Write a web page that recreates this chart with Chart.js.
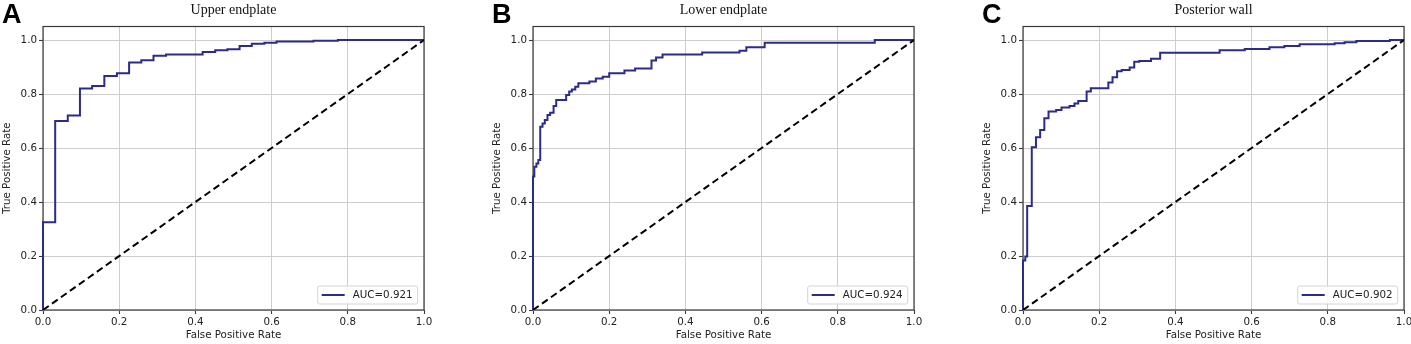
<!DOCTYPE html>
<html>
<head>
<meta charset="utf-8">
<script src="https://cdn.jsdelivr.net/npm/chart.js@4.4.1/dist/chart.umd.min.js"></script>
<style>
  html, body { margin:0; padding:0; background:#fff; }
  body { width:1411px; height:344px; position:relative; overflow:hidden; }
  .panel { position:absolute; top:0; width:435px; height:344px; }
  .panel canvas { display:block; }
  .letter { position:absolute; top:1px; font-family:"Liberation Sans", Arial, sans-serif; font-weight:bold; font-size:27px; line-height:27px; color:#000; }
  .title { position:absolute; top:2.6px; width:381px; text-align:center; font-family:"Liberation Serif", "Times New Roman", serif; font-size:14px; line-height:14px; color:#111; }
</style>
</head>
<body>
<script>
// ---------------- data ----------------
const panelLetters = ['A', 'B', 'C'];
const panelTitles = ['Upper endplate', 'Lower endplate', 'Posterior wall'];
const aucLabels = ['AUC=0.921', 'AUC=0.924', 'AUC=0.902'];
const tickValues = [0, 0.2, 0.4, 0.6, 0.8, 1.0];
const chanceX = [0, 1];
const chanceY = [0, 1];

// step corners (fpr, tpr) of each ROC curve
const fprA = [0, 0, 0.032, 0.065, 0.097, 0.129, 0.161, 0.194, 0.226, 0.258, 0.290, 0.323, 0.419, 0.452, 0.484, 0.516, 0.548, 0.581, 0.613, 0.710, 0.774, 1.0];
const tprA = [0, 0.325, 0.700, 0.720, 0.820, 0.830, 0.867, 0.877, 0.917, 0.925, 0.942, 0.946, 0.956, 0.962, 0.966, 0.978, 0.986, 0.990, 0.994, 0.997, 1.0, 1.0];

const fprB = [0, 0, 0.0035, 0.009, 0.014, 0.019, 0.025, 0.031, 0.038, 0.045, 0.054, 0.061, 0.087, 0.095, 0.102, 0.111, 0.119, 0.148, 0.165, 0.183, 0.200, 0.240, 0.268, 0.311, 0.323, 0.340, 0.444, 0.542, 0.560, 0.608, 0.897, 1.0];
const tprB = [0, 0.494, 0.531, 0.543, 0.556, 0.679, 0.691, 0.704, 0.722, 0.731, 0.756, 0.778, 0.796, 0.809, 0.817, 0.827, 0.840, 0.846, 0.857, 0.864, 0.877, 0.887, 0.894, 0.924, 0.935, 0.946, 0.954, 0.960, 0.973, 0.990, 1.0, 1.0];

const fprC = [0, 0, 0.006, 0.011, 0.023, 0.034, 0.045, 0.056, 0.067, 0.087, 0.101, 0.122, 0.135, 0.145, 0.167, 0.178, 0.224, 0.235, 0.247, 0.259, 0.280, 0.292, 0.305, 0.336, 0.360, 0.516, 0.582, 0.647, 0.686, 0.726, 0.818, 0.844, 0.875, 0.963, 1.0];
const tprC = [0, 0.183, 0.198, 0.385, 0.603, 0.640, 0.667, 0.710, 0.735, 0.741, 0.750, 0.756, 0.765, 0.774, 0.809, 0.821, 0.843, 0.862, 0.884, 0.889, 0.898, 0.919, 0.922, 0.931, 0.953, 0.962, 0.967, 0.973, 0.978, 0.984, 0.988, 0.992, 0.996, 1.0, 1.0];

const curvesX = [fprA, fprB, fprC];
const curvesY = [tprA, tprB, tprC];

// ---------------- layout / style ----------------
const panelLefts = [1, 491, 981];
const AXIS_W = 42;
const FONT = 'DejaVu Sans';
const TEXT = '#222';
const ROC_COLOR = '#2b2b8c';

const frameAndLegend = {
  id: 'frameAndLegend',
  beforeDatasetsDraw(chart) {
    const { ctx, chartArea: a } = chart;
    ctx.save();
    ctx.strokeStyle = '#3a3a3a';
    ctx.lineWidth = 1.2;
    ctx.strokeRect(a.left, a.top, a.right - a.left, a.bottom - a.top);
    ctx.restore();
  },
  afterDatasetsDraw(chart) {
    const { ctx, chartArea: a } = chart;
    ctx.save();
    const ds = chart.data.datasets[0];
    const w = 100, h = 18;
    const x = a.right - 6.3 - w, y = a.bottom - 6 - h;
    ctx.beginPath();
    const r = 2;
    ctx.moveTo(x + r, y);
    ctx.arcTo(x + w, y, x + w, y + h, r);
    ctx.arcTo(x + w, y + h, x, y + h, r);
    ctx.arcTo(x, y + h, x, y, r);
    ctx.arcTo(x, y, x + w, y, r);
    ctx.closePath();
    ctx.fillStyle = 'rgba(255,255,255,0.85)';
    ctx.fill();
    ctx.strokeStyle = '#d4d4d4';
    ctx.lineWidth = 1;
    ctx.stroke();
    ctx.beginPath();
    ctx.moveTo(x + 4, y + h / 2);
    ctx.lineTo(x + 27, y + h / 2);
    ctx.strokeStyle = ds.borderColor;
    ctx.lineWidth = 2;
    ctx.stroke();
    ctx.fillStyle = TEXT;
    ctx.font = '10.3px "' + FONT + '"';
    ctx.textBaseline = 'middle';
    ctx.textAlign = 'left';
    ctx.fillText(ds.label, x + 35, y + h / 2 + 0.5);
    ctx.restore();
  }
};

function makeChart(i) {
  const div = document.createElement('div');
  div.className = 'panel';
  div.style.left = panelLefts[i] + 'px';
  const cv = document.createElement('canvas');
  cv.width = 435; cv.height = 344;
  cv.style.width = '435px'; cv.style.height = '344px';
  div.appendChild(cv);
  document.body.appendChild(div);

  const letter = document.createElement('div');
  letter.className = 'letter';
  letter.style.left = (panelLefts[i] + 1) + 'px';
  letter.textContent = panelLetters[i];
  document.body.appendChild(letter);

  const title = document.createElement('div');
  title.className = 'title';
  title.style.left = (panelLefts[i] + AXIS_W) + 'px';
  title.textContent = panelTitles[i];
  document.body.appendChild(title);

  const roc = curvesX[i].map((v, k) => ({ x: v, y: curvesY[i][k] }));
  const chance = chanceX.map((v, k) => ({ x: v, y: chanceY[k] }));

  const tickOpts = { color: TEXT, font: { family: FONT, size: 10.3 }, padding: 2, callback: v => Number(v).toFixed(1) };
  const gridOpts = { color: '#cdcdcd', lineWidth: 1, tickLength: 4, tickColor: '#3a3a3a', tickWidth: 1.1 };

  new Chart(cv, {
    type: 'line',
    data: {
      datasets: [
        { label: aucLabels[i], data: roc, borderColor: ROC_COLOR, borderWidth: 2, pointRadius: 0, stepped: 'before', fill: false, clip: 2, order: 2 },
        { label: 'chance', data: chance, borderColor: '#000', borderWidth: 2, borderDash: [7, 4], pointRadius: 0, fill: false, order: 1 }
      ]
    },
    options: {
      responsive: false,
      animation: false,
      devicePixelRatio: 1,
      layout: { padding: { top: 26.5, right: 12, bottom: 0, left: 0 } },
      plugins: { legend: { display: false }, tooltip: { enabled: false }, title: { display: false } },
      scales: {
        x: {
          type: 'linear', min: 0, max: 1,
          afterBuildTicks: s => { s.ticks = tickValues.map(v => ({ value: v })); },
          afterFit: s => { s.height = 34; },
          ticks: Object.assign({ maxRotation: 0 }, tickOpts),
          grid: gridOpts,
          border: { display: false },
          title: { display: true, text: 'False Positive Rate', color: TEXT, font: { family: FONT, size: 10.3 }, padding: { top: 0, bottom: 2 } }
        },
        y: {
          type: 'linear', min: 0, max: 1.05,
          afterBuildTicks: s => { s.ticks = tickValues.map(v => ({ value: v })); },
          afterFit: s => { s.width = AXIS_W; },
          ticks: tickOpts,
          grid: gridOpts,
          border: { display: false },
          title: { display: true, text: 'True Positive Rate', color: TEXT, font: { family: FONT, size: 10.3 }, padding: { top: 0, bottom: 0 } }
        }
      }
    },
    plugins: [frameAndLegend]
  });
}

for (let i = 0; i < 3; i++) makeChart(i);
</script>
</body>
</html>
